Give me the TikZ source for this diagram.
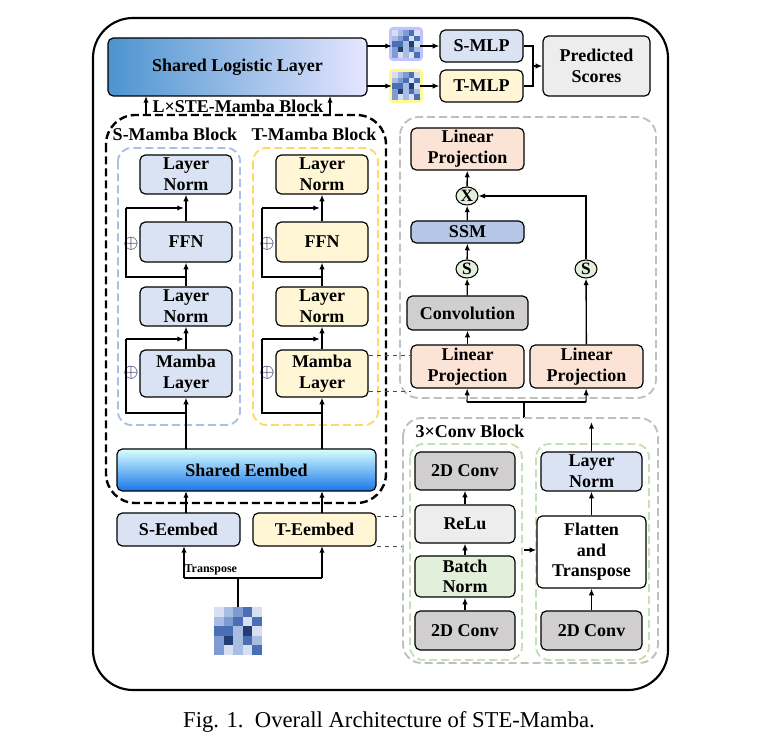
\documentclass[tikz,border=0pt]{standalone}
\usepackage{fontspec}
\setmainfont{Liberation Serif}
\usetikzlibrary{arrows.meta,shapes.geometric}
\definecolor{sblue}{HTML}{DAE3F3}
\definecolor{tyel}{HTML}{FFF6D5}
\definecolor{peach}{HTML}{FBE3D6}
\definecolor{ggray}{HTML}{D0CECE}
\definecolor{lgray}{HTML}{EDEDED}
\definecolor{lgreen}{HTML}{E2EFDA}
\definecolor{ssm}{HTML}{B4C7E7}
\definecolor{circfill}{HTML}{E2EFDA}
\definecolor{bdash}{HTML}{A9C0E4}
\definecolor{ydash}{HTML}{FFD966}
\definecolor{gdash}{HTML}{C5E0B4}
\definecolor{h1}{HTML}{D6E0F2}\definecolor{h2}{HTML}{A9BDE3}\definecolor{h3}{HTML}{7E9BD3}
\definecolor{h4}{HTML}{4A6FB5}\definecolor{h5}{HTML}{243E72}
\newcommand{\hmapdraw}[3]{% x y cell
 \foreach \r/\row in {0/{1,2,3,4,1},1/{2,3,4,1,4},2/{4,4,2,5,1},3/{3,5,2,4,2},4/{3,1,2,1,4}}{
  \foreach \c [count=\ci from 0] in \row {
   \fill[h\c] (#1+\ci*#3,#2+\r*#3) rectangle ++(#3,#3);}}}
\begin{document}
\begin{tikzpicture}[x=0.75pt,y=-0.75pt,
 box/.style={draw,rounded corners=4pt,line width=0.9pt,align=center,font=\bfseries\fontsize{13.5}{15.5}\selectfont,inner sep=0pt},
 lab/.style={font=\bfseries\fontsize{13.5}{15.5}\selectfont},
 ar/.style={-{Latex[length=5pt,width=4pt]},line width=1pt},
 ln/.style={line width=1pt},
 dsh/.style={dashed,line width=0.7pt,black!70},
 circ/.style={draw,ellipse,fill=circfill,line width=0.8pt,inner sep=0pt,minimum width=22pt*0.75,minimum height=18pt*0.75,font=\bfseries\fontsize{13}{13}\selectfont}]
\useasboundingbox (0,0) rectangle (761,748);
% outer frame
\draw[line width=1.6pt,rounded corners=30pt] (93,18) rectangle (668,690);
% top row
\shade[rounded corners=4pt,left color=blue!55!black!60!cyan!70,right color=blue!10,draw=black,line width=0.9pt] (108,38) rectangle (367,96);
\node[lab] (sll) at (237.5,67) {Shared Logistic Layer};
\fill[blue!40,rounded corners=3pt,opacity=0.6] (389,27) rectangle (423,61);
\fill[yellow!60,rounded corners=3pt,opacity=0.7] (389,69) rectangle (423,103);
\hmapdraw{392}{30}{5.6}
\hmapdraw{392}{72}{5.6}
\node[box,fill=sblue,minimum width=83*0.75pt,minimum height=32*0.75pt] (smlp) at (481.5,46) {S-MLP};
\node[box,fill=tyel,minimum width=83*0.75pt,minimum height=32*0.75pt] (tmlp) at (481.5,86) {T-MLP};
\node[box,fill=lgray,minimum width=107*0.75pt,minimum height=60*0.75pt] (pred) at (596.5,66) {Predicted\\Scores};
\coordinate (h1w) at (392,46); \coordinate (h1e) at (420,46);
\coordinate (h2w) at (392,86); \coordinate (h2e) at (420,86);
\draw[ar] (367,46) -- (h1w);
\draw[ar] (367,86) -- (h2w);
\draw[ar] (h1e) -- (smlp.west);
\draw[ar] (h2e) -- (tmlp.west);
\draw[ln] (smlp.east) -| (533,66);
\draw[ln] (tmlp.east) -| (533,66);
\draw[ar] (533,66) -- (pred.west);
\node[lab] (lste) at (238,106) {L×STE-Mamba Block};
\draw[ar] (146,115) -- (146,96);
\draw[ar] (330,115) -- (330,96);
% mamba blocks
\draw[dashed,line width=1.8pt,dash pattern=on 6pt off 3pt,rounded corners=22pt] (106,115) rectangle (386,503);
\node[lab] (slab) at (175,134) {S-Mamba Block};
\node[lab] (tlab) at (314,134) {T-Mamba Block};
\draw[dashed,line width=1.4pt,dash pattern=on 6pt off 3pt,color=bdash,rounded corners=10pt] (118,148) rectangle (240,425);
\draw[dashed,line width=1.4pt,dash pattern=on 6pt off 3pt,color=ydash,rounded corners=10pt] (253,148) rectangle (378,425);
\foreach \p/\cx/\col in {s/186/sblue,t/322/tyel}{
 \node[box,fill=\col,minimum width=92*0.75pt,minimum height=39*0.75pt] (\p ln1) at (\cx,174.5) {Layer\\Norm};
 \node[box,fill=\col,minimum width=92*0.75pt,minimum height=40*0.75pt] (\p ffn) at (\cx,242) {FFN};
 \node[box,fill=\col,minimum width=92*0.75pt,minimum height=39*0.75pt] (\p ln2) at (\cx,306.5) {Layer\\Norm};
 \node[box,fill=\col,minimum width=92*0.75pt,minimum height=47*0.75pt] (\p mam) at (\cx,373.5) {Mamba\\Layer};
 \draw[ar] (\p ffn) -- (\p ln1);
 \draw[ar] (\p ln2) -- (\p ffn);
 \draw[ar] (\p mam) -- (\p ln2);
 \draw[ln] (\cx,277) -- (\cx-60,277) -- (\cx-60,208);
 \draw[ar] (\cx-60,208) -- (\cx-2,208);
 \draw[ln] (\cx,413) -- (\cx-60,413) -- (\cx-60,339);
 \draw[ar] (\cx-60,339) -- (\cx-2,339);
 \node[font=\fontsize{15}{15}\selectfont,text=blue!30!black,inner sep=0pt] (\p o1) at (\cx-55,244) {$\oplus$};
 \node[font=\fontsize{15}{15}\selectfont,text=blue!30!black,inner sep=0pt] (\p o2) at (\cx-55,373) {$\oplus$};
}
\shade[rounded corners=4pt,bottom color=blue!55!cyan!90!black!90,top color=cyan!15,draw=black,line width=0.9pt] (117,449) rectangle (376,491);
\node[lab] (seb) at (246.5,470) {Shared Eembed};
\draw[ar] (186,449) -- (smam);
\draw[ar] (322,449) -- (tmam);
\node[box,fill=sblue,minimum width=123*0.75pt,minimum height=33*0.75pt] (se) at (178.5,529.5) {S-Eembed};
\node[box,fill=tyel,minimum width=123*0.75pt,minimum height=33*0.75pt] (te) at (314.5,529.5) {T-Eembed};
\draw[ar] (186,513) -- (186,491);
\draw[ar] (322,513) -- (322,491);
\hmapdraw{214}{607}{9.6}
\coordinate (hm) at (238,607);
\draw[ln] (hm) -- (238,578);
\draw[ln] (184,578) -- (322,578);
\draw[ar] (184,578) -- (184,546);
\draw[ar] (322,578) -- (322,546);
\node[font=\bfseries\fontsize{9}{9}\selectfont,anchor=south west,inner sep=1pt] (tr) at (183,577) {Transpose};
% right SSM block
\draw[dashed,line width=1.4pt,dash pattern=on 6pt off 3pt,color=black!25,rounded corners=14pt] (400,117) rectangle (656,398);
\node[box,fill=peach,minimum width=113*0.75pt,minimum height=42*0.75pt] (lpt) at (467.5,149) {Linear\\Projection};
\node[circ] (x) at (467,196) {X};
\node[box,fill=ssm,minimum width=113*0.75pt,minimum height=22*0.75pt] (ssm) at (467.5,232) {SSM};
\node[circ] (s1) at (467,269) {S};
\node[box,fill=ggray,minimum width=121*0.75pt,minimum height=34*0.75pt] (conv) at (467.5,313) {Convolution};
\node[box,fill=peach,minimum width=113*0.75pt,minimum height=43*0.75pt] (lpl) at (467.5,366.5) {Linear\\Projection};
\node[box,fill=peach,minimum width=113*0.75pt,minimum height=43*0.75pt] (lpr) at (586.5,366.5) {Linear\\Projection};
\node[circ] (s2) at (586,269) {S};
\draw[ar] (x) -- (lpt);
\draw[ar] (ssm) -- (x);
\draw[ar] (s1) -- (ssm);
\draw[ar] (conv) -- (s1);
\draw[ar] (lpl) -- (conv);
\draw[ar] (lpr) -- (s2);
\draw[ar,line width=0.8pt] (s2) |- (x);
\draw[ln,line width=0.8pt] (467,402) -- (586,402);
\draw[ar,line width=0.8pt] (467,402) -- (lpl);
\draw[ar,line width=0.8pt] (586,402) -- (lpr);
\draw[ln,line width=0.8pt] (524,402) -- (524,418);
% dashed links
\draw[dsh] (tmam.east|-0,355) -- (lpl.west|-0,355);
\draw[dsh] (tmam.east|-0,391) -- (411,391);
\draw[dsh] (te.east|-0,516) -- (403,516);
\draw[dsh] (te.east|-0,546) -- (403,546);
% conv block
\draw[dashed,line width=1.4pt,dash pattern=on 6pt off 3pt,color=black!25,rounded corners=14pt] (403,418) rectangle (658,663);
\node[lab] (cbl) at (470,431) {3×Conv Block};
\draw[dashed,line width=1.4pt,dash pattern=on 6pt off 3pt,color=gdash,rounded corners=10pt] (410,444) rectangle (522,660);
\draw[dashed,line width=1.4pt,dash pattern=on 6pt off 3pt,color=gdash,rounded corners=10pt] (536,444) rectangle (649,660);
\node[box,fill=ggray,minimum width=100*0.75pt,minimum height=38*0.75pt] (c1) at (465,471) {2D Conv};
\node[box,fill=lgray,minimum width=100*0.75pt,minimum height=38*0.75pt] (relu) at (465,524) {ReLu};
\node[box,fill=lgreen,minimum width=100*0.75pt,minimum height=41*0.75pt] (bn) at (465,576.5) {Batch\\Norm};
\node[box,fill=ggray,minimum width=100*0.75pt,minimum height=39*0.75pt] (c2) at (465,630.5) {2D Conv};
\node[box,fill=sblue,minimum width=101*0.75pt,minimum height=39*0.75pt] (ln3) at (591.5,471.5) {Layer\\Norm};
\node[box,fill=white,minimum width=109*0.75pt,minimum height=72*0.75pt] (ft) at (591.5,552) {Flatten\\and\\Transpose};
\node[box,fill=ggray,minimum width=101*0.75pt,minimum height=39*0.75pt] (c3) at (591.5,630.5) {2D Conv};
\draw[ar] (relu) -- (c1);
\draw[ar] (bn) -- (relu);
\draw[ar] (c2) -- (bn);
\draw[ar] (c3) -- (ft);
\draw[ar] (ft) -- (ln3);
\coordinate (lnup) at (591.5,422);
\draw[ar] (ln3) -- (lnup);
\coordinate (gl) at (524,550);
\draw[ar] (gl) -- (ft.west|-gl);
% caption
\node[font=\fontsize{17}{19}\selectfont] (cap) at (389,722) {Fig. 1.\ \ Overall Architecture of STE-Mamba.};
\end{tikzpicture}
\end{document}
